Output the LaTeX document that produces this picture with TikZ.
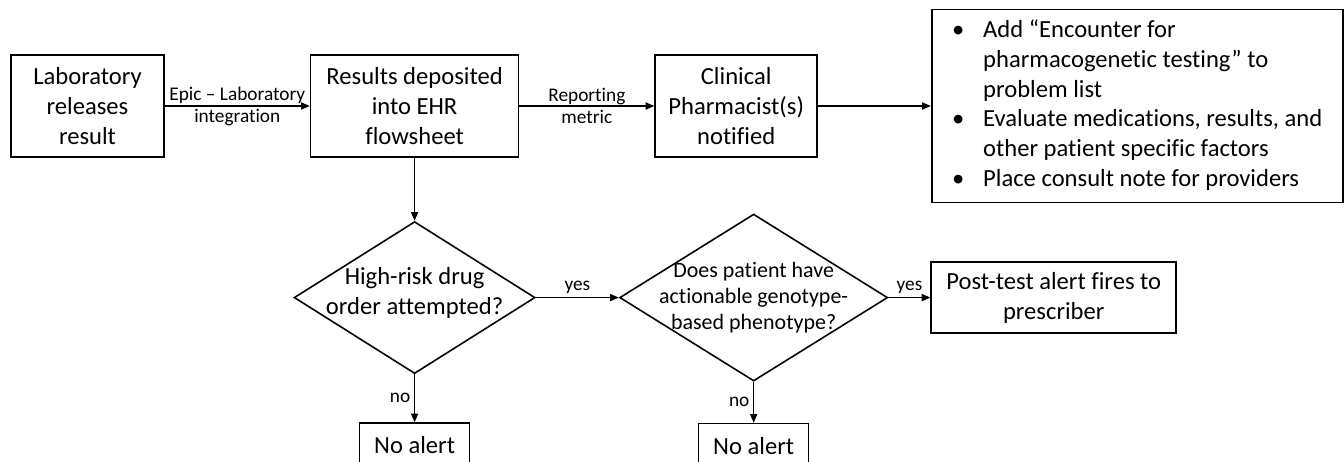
\documentclass[tikz,border=0pt]{standalone}
\usepackage{fontspec}
\setmainfont{Carlito}[Ligatures=NoCommon]
\usetikzlibrary{positioning,arrows.meta,shapes.geometric}

\begin{document}
\begin{tikzpicture}[node distance=1cm, line width=0.9pt,
    box/.style={draw,align=center,inner sep=2pt,minimum height=2.04cm,
                font=\fontsize{14}{17}\selectfont},
    decision/.style={draw,diamond,inner sep=0pt},
    qtext/.style={align=center,inner sep=0pt,font=\fontsize{14}{17}\selectfont},
    lbl/.style={align=center,inner sep=2pt,font=\fontsize{11}{12.5}\selectfont},
    arr/.style={-{Triangle[length=5pt,width=4pt]}}]
    \useasboundingbox (0,0) rectangle (26.88,-9.24);
    \node[box,minimum width=3.06cm] (lab) at (1.75,-2.12) {Laboratory\\releases\\result};
    \node[box,minimum width=4.16cm,right=2.9cm of lab] (ehr) {Results deposited\\into EHR\\flowsheet};
    \node[box,minimum width=3.24cm,right=2.7cm of ehr] (pharm) {Clinical\\Pharmacist(s)\\notified};
    \node[box,minimum width=8.22cm,minimum height=3.86cm,right=2.26cm of pharm] (todo) {%
      \begin{tabular}{@{}p{0.62cm}@{}l@{}}
        • & Add “Encounter for\\
          & pharmacogenetic testing” to\\
          & problem list\\
        • & Evaluate medications, results, and\\
          & other patient specific factors\\
        • & Place consult note for providers
      \end{tabular}};

    \node[decision,minimum width=4.82cm,minimum height=3.04cm,below=1.26cm of ehr] (risk) {};
    \node[qtext] (risktxt) at ([yshift=0.1cm]risk.center) {High-risk drug\\order attempted?};
    \node[decision,minimum width=5.36cm,minimum height=3.34cm,right=1.66cm of risk] (pheno) {};
    \node[qtext,font=\fontsize{12.5}{14.7}\selectfont] (phenotxt) at (pheno) {Does patient have\\actionable genotype-\\based phenotype?};
    \node[box,minimum width=4.9cm,minimum height=1.42cm,right=0.84cm of pheno] (post) {Post-test alert fires to\\prescriber};
    \node[box,minimum width=2.2cm,minimum height=0.88cm,below=0.96cm of risk] (none1) {No alert};
    \node[box,minimum width=2.2cm,minimum height=0.88cm,below=0.82cm of pheno] (none2) {No alert};

    \draw[arr] (lab) -- node[lbl] {Epic – Laboratory\\integration} (ehr);
    \draw[arr] (ehr) -- node[lbl] {Reporting\\metric} (pharm);
    \draw[arr] (pharm) -- (todo);
    \draw[arr] (ehr) -- (risk);
    \draw[arr] (risk) -- node[lbl,above] {yes} (pheno);
    \draw[arr] (pheno) -- node[lbl,above] {yes} (post);
    \draw[arr] (risk) -- node[lbl,left] {no} (none1);
    \draw[arr] (pheno) -- node[lbl,left] {no} (none2);
\end{tikzpicture}
\end{document}
